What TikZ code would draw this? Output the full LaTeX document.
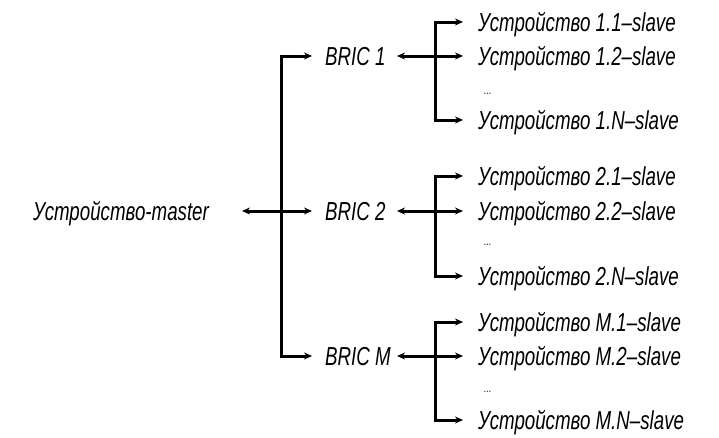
\documentclass[tikz,border=0pt]{standalone}
\usepackage{fontspec}
\setmainfont{Liberation Sans}[FakeStretch=0.72]
\usetikzlibrary{arrows.meta}

\tikzset{
  lbl/.style={font=\fontsize{26}{30}\selectfont\itshape, inner sep=0pt,
    anchor=west, text height=18pt, text depth=0pt},
  dots/.style={font=\fontsize{12}{13}\selectfont\itshape, inner sep=0pt, anchor=base west},
  wire/.style={line width=3pt, line join=miter},
  bitip/.style={{Stealth[length=8pt,width=7pt]}-{Stealth[length=8pt,width=7pt]}},
}

\begin{document}
\begin{tikzpicture}[x=1pt, y=-1pt]
  \useasboundingbox (0,0) rectangle (719,437);

  % master device and the three BRIC hubs
  \node[lbl] (master) at (33,211) {Устройство-master};
  \node[lbl] (b1) at (325,56) {BRIC 1};
  \node[lbl] (b2) at (325,211) {BRIC 2};
  \node[lbl] (bm) at (325,356) {BRIC M};

  % slave devices of each hub
  \node[lbl] (s11) at (478,22)  {Устройство 1.1--slave};
  \node[lbl] (s12) at (478,56)  {Устройство 1.2--slave};
  \node[dots] (d1) at (484,94)  {...};
  \node[lbl] (s1n) at (478,120) {Устройство 1.N--slave};

  \node[lbl] (s21) at (478,176) {Устройство 2.1--slave};
  \node[lbl] (s22) at (478,211) {Устройство 2.2--slave};
  \node[dots] (d2) at (484,245) {...};
  \node[lbl] (s2n) at (478,276) {Устройство 2.N--slave};

  \node[lbl] (sm1) at (478,322) {Устройство M.1--slave};
  \node[lbl] (sm2) at (478,356) {Устройство M.2--slave};
  \node[dots] (dm) at (484,392) {...};
  \node[lbl] (smn) at (478,420) {Устройство M.N--slave};

  % trunk from the master to the hubs
  \coordinate (tb) at (281,356);
  \coordinate (xj) at (435,0);
  \draw[wire, bitip] ([xshift=209pt]master.west) -- ([xshift=-13pt]b2.west);
  \draw[wire, bitip] ([xshift=-13pt]b1.west) -| (tb) -- ([xshift=-13pt]bm.west);

  % hub-to-slave branches
  \foreach \h/\a/\b/\n in {b1/s11/s12/s1n, b2/s21/s22/s2n, bm/sm1/sm2/smn}{
    \coordinate (jb) at (\n.west -| xj);
    \draw[wire, bitip] ([xshift=72pt]\h.west) -- ([xshift=-15pt]\b.west);
    \draw[wire, bitip] ([xshift=-15pt]\a.west) -| (jb) -- ([xshift=-15pt]\n.west);
  }
\end{tikzpicture}
\end{document}
